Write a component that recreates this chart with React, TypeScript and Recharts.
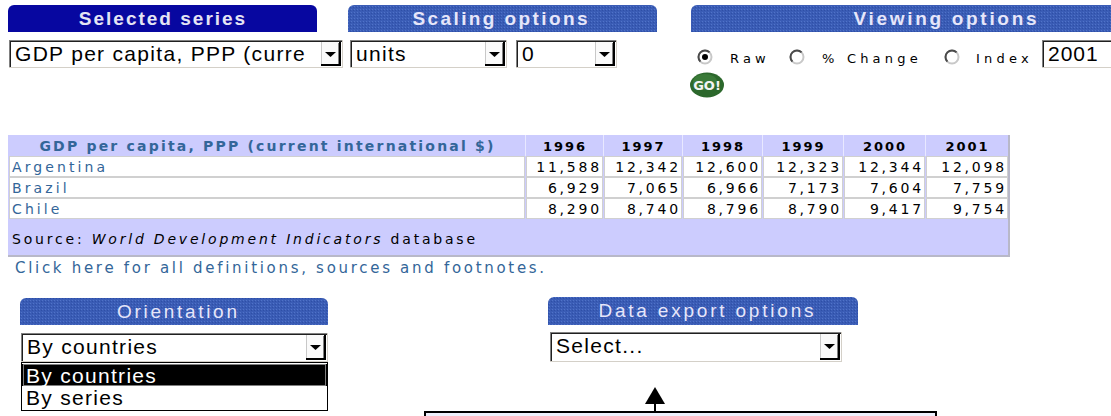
import { Surface, Layer, Rectangle, Polygon, Dot } from "recharts";

const years = ["1996", "1997", "1998", "1999", "2000", "2001"];
const countries = ["Argentina", "Brazil", "Chile"];
const argentina = [11588, 12342, 12600, 12323, 12344, 12098];
const brazil = [6929, 7065, 6966, 7173, 7604, 7759];
const chile = [8290, 8740, 8796, 8790, 9417, 9754];
const seriesRows = [argentina, brazil, chile];
const seriesTitle = "GDP per capita, PPP (current international $)";
const radioLabels = ["Raw", "% Change", "Index"];
const orientationOptions = ["By countries", "By series"];

const W = 1111;
const H = 416;
const colEdges = [8, 525, 603, 682, 762, 843, 925, 1008];
const tableTop = 135;
const headH = 21;
const rowH = 21;

const verdana = "'DejaVu Sans', Verdana, sans-serif";
const arial = "'Liberation Sans', Arial, sans-serif";
const linkBlue = "#336699";

function Tab({ x, y, w, h, label, cx, dark, bold, spacing }: any) {
  return (
    <Layer>
      <Rectangle x={x} y={y} width={w} height={h} radius={[6, 6, 0, 0]} fill={dark ? "#0707a0" : "url(#dither)"} />
      <text x={cx + spacing / 2} y={y + 20} textAnchor="middle" fontFamily={arial} fontSize={19}
        fontWeight={bold ? 700 : 400} fill={dark ? "#e4e4f4" : "#e6e6fa"} style={{ letterSpacing: spacing }}>
        {label}
      </text>
    </Layer>
  );
}

function Select({ x, y, w, h, text }: any) {
  const bx = x + w - 22;
  return (
    <Layer>
      <rect x={x} y={y} width={w} height={h} fill="#fff" />
      <line x1={x} y1={y + 0.5} x2={x + w} y2={y + 0.5} stroke="#808080" />
      <line x1={x + 0.5} y1={y} x2={x + 0.5} y2={y + h} stroke="#808080" />
      <line x1={x + 1} y1={y + 1.5} x2={x + w - 1} y2={y + 1.5} stroke="#202020" />
      <line x1={x + 1.5} y1={y + 1} x2={x + 1.5} y2={y + h - 1} stroke="#202020" />
      <line x1={x} y1={y + h - 0.5} x2={x + w} y2={y + h - 0.5} stroke="#d4d0c8" />
      <line x1={x + w - 0.5} y1={y} x2={x + w - 0.5} y2={y + h} stroke="#d4d0c8" />
      <text x={x + 6} y={y + 21} fontFamily={arial} fontSize={21} fill="#000" style={{ letterSpacing: 1.3 }}>{text}</text>
      <rect x={bx} y={y + 2} width={20} height={h - 4} fill="#fafafa" />
      <line x1={bx + 0.5} y1={y + 2} x2={bx + 0.5} y2={y + h - 2} stroke="#c8c8c8" />
      <line x1={bx + 19} y1={y + 2} x2={bx + 19} y2={y + h - 2} stroke="#000" strokeWidth={2} />
      <line x1={bx} y1={y + h - 3} x2={bx + 20} y2={y + h - 3} stroke="#000" strokeWidth={2} />
      <line x1={bx + 17.5} y1={y + 3} x2={bx + 17.5} y2={y + h - 4} stroke="#808080" />
      <Polygon points={[{ x: bx + 4, y: y + 12 }, { x: bx + 15, y: y + 12 }, { x: bx + 9.5, y: y + 17 }]} fill="#000" />
    </Layer>
  );
}

function Radio({ cx, cy, on }: any) {
  return (
    <Layer>
      <Dot cx={cx} cy={cy} r={6.5} fill="#fff" stroke="#c8c8c8" strokeWidth={2} />
      <path d={`M ${cx - 4.6} ${cy + 4.6} A 6.5 6.5 0 0 1 ${cx + 4.6} ${cy - 4.6}`} fill="none" stroke="#4a4a4a" strokeWidth={2} />
      {on && <Dot cx={cx} cy={cy} r={3} fill="#000" />}
    </Layer>
  );
}

export default function App() {
  const fmt = (v: number) => v.toLocaleString("en-US");
  const radioX = [705, 797, 952];
  const radioTextX = [730, 822, 976];
  const sourceY = tableTop + headH + rowH * countries.length;
  return (
    <div style={{ position: "fixed", left: 0, top: 0, width: W, height: H, background: "#fff" }}>
      <Surface width={W} height={H} viewBox={{ x: 0, y: 0, width: W, height: H }}>
        <defs>
          <pattern id="dither" width="3" height="3" patternUnits="userSpaceOnUse">
            <rect width="3" height="3" fill="#3a5cb5" />
            <rect x="0" y="0" width="1" height="1" fill="#5073c8" />
            <rect x="2" y="1" width="1" height="1" fill="#2e4fa6" />
          </pattern>
        </defs>

        <Tab x={8} y={5} w={309} h={27} label="Selected series" cx={162} dark bold spacing={2.0} />
        <Tab x={348} y={5} w={309} h={27} label="Scaling options" cx={500} bold spacing={2.4} />
        <Tab x={691} y={5} w={430} h={27} label="Viewing options" cx={945} bold spacing={2.7} />

        <Select x={9} y={40} w={334} h={28} text="GDP per capita, PPP (curre" />
        <Select x={350} y={40} w={157} h={28} text="units" />
        <Select x={516} y={40} w={101} h={28} text="0" />

        {radioLabels.map((l, i) => (
          <Layer key={l}>
            <Radio cx={radioX[i]} cy={57} on={i === 0} />
            <text x={radioTextX[i]} y={63} fontFamily={verdana} fontSize={13} fill="#000" style={{ letterSpacing: 4.2 }}>{l}</text>
          </Layer>
        ))}
        <rect x={1042} y={40} width={80} height={28} fill="#fff" />
        <line x1={1042} y1={40.5} x2={1111} y2={40.5} stroke="#808080" />
        <line x1={1042.5} y1={40} x2={1042.5} y2={68} stroke="#808080" />
        <line x1={1043} y1={41.5} x2={1111} y2={41.5} stroke="#202020" />
        <line x1={1043.5} y1={41} x2={1043.5} y2={67} stroke="#202020" />
        <line x1={1042} y1={67.5} x2={1111} y2={67.5} stroke="#d4d0c8" />
        <text x={1048} y={61} fontFamily={arial} fontSize={21} fill="#000" style={{ letterSpacing: 1 }}>2001</text>

        <ellipse cx={707} cy={85} rx={17} ry={12.5} fill="#2c682c" />
        <ellipse cx={705} cy={82} rx={12} ry={8} fill="#3a7a38" />
        <text x={707} y={90} textAnchor="middle" fontFamily={verdana} fontSize={13} fontWeight={700} fill="#f4f4f4">GO!</text>

        {/* data table */}
        <rect x={colEdges[0]} y={tableTop} width={colEdges[7] - colEdges[0] + 2} height={sourceY + 36 - tableTop + 2} fill="#b8b8c8" />
        <rect x={colEdges[0]} y={tableTop} width={colEdges[7] - colEdges[0]} height={sourceY + 36 - tableTop} fill="#ccccfe" />
        {years.map((yr, c) => (
          <Layer key={yr}>
            <line x1={colEdges[c + 1] + 0.5} y1={tableTop} x2={colEdges[c + 1] + 0.5} y2={tableTop + headH} stroke="#e8e8ff" />
            <text x={(colEdges[c + 1] + colEdges[c + 2]) / 2 + 1} y={tableTop + 16} textAnchor="middle" fontFamily={verdana}
              fontSize={13} fontWeight={700} fill="#000" style={{ letterSpacing: 2 }}>{yr}</text>
          </Layer>
        ))}
        <text x={(colEdges[0] + colEdges[1]) / 2 + 1} y={tableTop + 16} textAnchor="middle" fontFamily={verdana}
          fontSize={14} fontWeight={700} fill={linkBlue} style={{ letterSpacing: 2.2 }}>{seriesTitle}</text>

        {countries.map((name, r) => {
          const y = tableTop + headH + r * rowH;
          return (
            <Layer key={name}>
              {colEdges.slice(0, -1).map((x0, c) => (
                <rect key={c} x={x0 + 1.5} y={y + 0.5} width={colEdges[c + 1] - x0 - 2} height={rowH - 1}
                  fill="#fff" stroke="#d0d0d0" />
              ))}
              <text x={12} y={y + 16} fontFamily={verdana} fontSize={14} fill={linkBlue} style={{ letterSpacing: 3.1 }}>{name}</text>
              {seriesRows[r].map((v, c) => (
                <text key={c} x={colEdges[c + 2] - 1} y={y + 16} textAnchor="end" fontFamily={verdana}
                  fontSize={14} fill="#000" style={{ letterSpacing: 2.8 }}>{fmt(v)}</text>
              ))}
            </Layer>
          );
        })}
        <text x={12} y={sourceY + 25} fontFamily={verdana} fontSize={14} fill="#000" style={{ letterSpacing: 2.8 }}>
          Source: <tspan fontStyle="italic">World Development Indicators</tspan> database
        </text>

        <text x={15} y={273} fontFamily={verdana} fontSize={15} fill={linkBlue} style={{ letterSpacing: 2.7 }}>
          Click here for all definitions, sources and footnotes.
        </text>

        <Tab x={20} y={298} w={308} h={27} label="Orientation" cx={177} spacing={2.7} />
        <Select x={21} y={333} w={307} h={29} text="By countries" />
        <rect x={21.5} y={362.5} width={306} height={48} fill="#fff" stroke="#000" />
        <rect x={22} y={364} width={305} height={22} fill="#000" />
        <rect x={23.5} y={364.5} width={302} height={21} fill="none" stroke="#fff" strokeDasharray="1 1" />
        <text x={26} y={383} fontFamily={arial} fontSize={21} fill="#fff" style={{ letterSpacing: 1.3 }}>{orientationOptions[0]}</text>
        <text x={26} y={405} fontFamily={arial} fontSize={21} fill="#000" style={{ letterSpacing: 1.3 }}>{orientationOptions[1]}</text>

        <Tab x={548} y={297} w={310} h={28} label="Data export options" cx={706} spacing={2.8} />
        <Select x={550} y={332} w={292} h={30} text="Select..." />

        <Polygon points={[{ x: 655, y: 387 }, { x: 645, y: 404 }, { x: 665, y: 404 }]} fill="#000" />
        <line x1={655} y1={403} x2={655} y2={413} stroke="#000" strokeWidth={2} />
        <rect x={425} y={412} width={511} height={20} fill="#eef0fc" stroke="#000" strokeWidth={2} />
      </Surface>
    </div>
  );
}
